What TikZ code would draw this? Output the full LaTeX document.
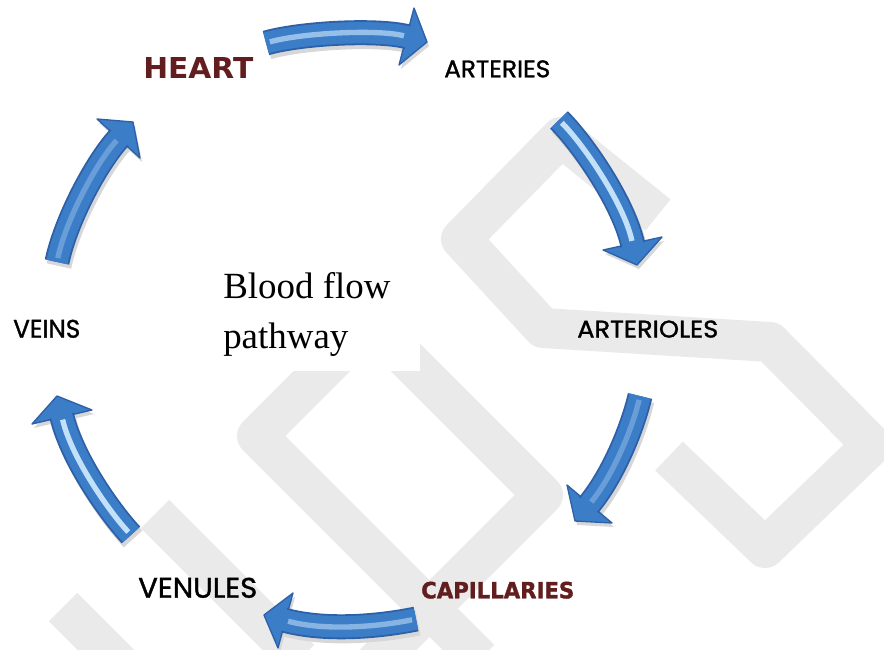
\documentclass[tikz,border=0pt]{standalone}
\usepackage{fontspec}
\usepackage{graphicx}
\newfontfamily\lblfont{Poppins}[FakeBold=1.3]
\newfontfamily\hvyfont{DejaVu Sans}
\newfontfamily\blkfont{DejaVu Sans}[FakeBold=1.6]
\newfontfamily\serfont{Liberation Serif}
\newdimen\mypx \mypx=0.75pt
\newcommand{\fitpx}[3]{\resizebox{#1\mypx}{#2\mypx}{#3}}
\definecolor{wm}{RGB}{234,234,234}
\definecolor{hred}{RGB}{98,30,30}
\definecolor{ablue}{RGB}{60,125,200}
\definecolor{adark}{RGB}{46,96,168}
\definecolor{alight}{RGB}{210,235,255}
\definecolor{shadowc}{RGB}{215,215,215}
\tikzset{
  wmband/.style={draw=wm, line width=30pt, line join=round},
  lbl/.style={inner sep=0pt, anchor=base west},
}
\newcommand{\bluearrow}[2]{%
  \begin{scope}[transform canvas={shift={(1.5pt,-3pt)}}]
    \draw[shadowc, line width=18.75pt] (#1s) .. controls (#1a) and (#1b) .. (#1e);
    \fill[shadowc] (#1p) -- (#1t) -- (#1q) -- cycle;
  \end{scope}
  \filldraw[fill=ablue, draw=adark, line width=1pt, line join=round] (#1p) -- (#1t) -- (#1q) -- cycle;
  \draw[adark, line width=18.75pt, shorten >=-1pt] (#1s) .. controls (#1a) and (#1b) .. (#1e);
  \draw[ablue, line width=16pt, shorten >=-1.5pt] (#1s) .. controls (#1a) and (#1b) .. (#1e);
  \draw[alight, line width=4pt, opacity=#2, shorten <=3pt, shorten >=2pt] (#1s) .. controls (#1a) and (#1b) .. (#1e);
}
\begin{document}
\begin{tikzpicture}[x=0.75pt,y=-0.75pt]
\useasboundingbox (0,0) rectangle (884,649);
\begin{scope}
  \clip (0,0) rectangle (884,649);
  \draw[wmband] (658,215) -- (561,137) -- (461,239) -- (543,328) -- (770,342) -- (872,445) -- (765,548) -- (669,456);
  \draw[wmband] (380,332) -- (543,495) -- (370,668);
  \draw[wmband] (367,326) -- (257,436) -- (480,659);
  \draw[wmband] (155,514) -- (300,659);
  \draw[wmband] (63,607) -- (120,664);
\end{scope}
\fill[white] (215,258) rectangle (420,371);

% arrow 1: HEART -> ARTERIES
\coordinate (ar1s) at (266,43);  \coordinate (ar1a) at (301,33);
\coordinate (ar1b) at (378,29);  \coordinate (ar1e) at (406.5,36.5);
\coordinate (ar1p) at (414,8);   \coordinate (ar1q) at (399,65);
\coordinate (ar1t) at (427,42);
% arrow 2: ARTERIES -> ARTERIOLES
\coordinate (ar2s) at (559,120); \coordinate (ar2a) at (584,145);
\coordinate (ar2b) at (624,204); \coordinate (ar2e) at (632.5,243.5);
\coordinate (ar2p) at (603,250); \coordinate (ar2q) at (662,237);
\coordinate (ar2t) at (637,265);
% arrow 3: ARTERIOLES -> CAPILLARIES
\coordinate (ar3s) at (640,396); \coordinate (ar3a) at (632,430);
\coordinate (ar3b) at (612,477); \coordinate (ar3e) at (589.5,504);
\coordinate (ar3p) at (567,485); \coordinate (ar3q) at (612,523);
\coordinate (ar3t) at (575,521);
% arrow 4: CAPILLARIES -> VENULES
\coordinate (ar4s) at (416,619); \coordinate (ar4a) at (377,627);
\coordinate (ar4b) at (324,631); \coordinate (ar4e) at (285.5,620.5);
\coordinate (ar4p) at (293,593); \coordinate (ar4q) at (278,648);
\coordinate (ar4t) at (264,615);
% arrow 5: VENULES -> VEINS
\coordinate (ar5s) at (131,535); \coordinate (ar5a) at (107,509);
\coordinate (ar5b) at (71,456);  \coordinate (ar5e) at (62,417);
\coordinate (ar5p) at (32,424);  \coordinate (ar5q) at (92,410);
\coordinate (ar5t) at (57,396);
% arrow 6: VEINS -> HEART
\coordinate (ar6s) at (57,262);  \coordinate (ar6a) at (65,223);
\coordinate (ar6b) at (95,164);  \coordinate (ar6e) at (118.5,138.5);
\coordinate (ar6p) at (97,119);  \coordinate (ar6q) at (140,158);
\coordinate (ar6t) at (133,122);

\bluearrow{ar1}{0.6}
\bluearrow{ar2}{0.9}
\bluearrow{ar3}{0.3}
\bluearrow{ar4}{0.5}
\bluearrow{ar5}{0.9}
\bluearrow{ar6}{0.3}

% labels
\node[lbl, text=hred] (heart) at (143,79) {\fitpx{110}{21}{\hvyfont\bfseries HEART}};
\node[lbl] (arteries) at (444,77.3) {\fitpx{106}{17}{\lblfont ARTERIES}};
\node[lbl] (arterioles) at (577,337.5) {\fitpx{141}{17}{\lblfont ARTERIOLES}};
\node[lbl, text=hred] (capillaries) at (421,598.3) {\fitpx{153}{16.6}{\blkfont\bfseries CAPILLARIES}};
\node[lbl] (venules) at (138,597.7) {\fitpx{119}{20}{\lblfont VENULES}};
\node[lbl] (veins) at (13,337.7) {\fitpx{67}{18}{\lblfont VEINS}};
\node[lbl] (blood) at (223,298) {\serfont\fontsize{27.7pt}{37.5pt}\selectfont Blood flow};
\node[lbl] (pathway) at (223,348) {\serfont\fontsize{27.7pt}{37.5pt}\selectfont pathway};
\end{tikzpicture}
\end{document}
